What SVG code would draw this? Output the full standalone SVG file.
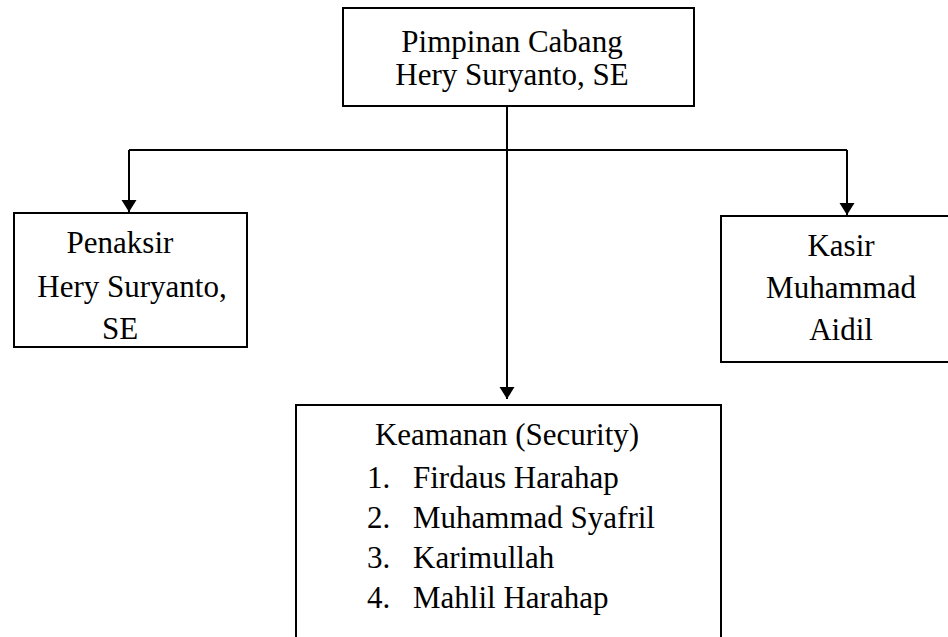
<svg xmlns="http://www.w3.org/2000/svg" width="948" height="637" viewBox="0 0 948 637">
<style>
.box{fill:#fff;stroke:#000;stroke-width:2}
.t{font-family:"Liberation Serif","Times New Roman",serif;font-size:31px;fill:#000}
.c{text-anchor:middle}
.ln{fill:none;stroke:#000;stroke-width:2}
</style>
<defs>
<marker id="ah" markerWidth="14" markerHeight="16" refX="12" refY="7.5" orient="auto" markerUnits="userSpaceOnUse">
<path d="M0,0 L12,7.5 L0,15 Z" fill="#000"/>
</marker>
</defs>
<rect width="948" height="637" fill="#fff"/>
<g id="connectors">
<path class="ln" d="M507,106 V399" marker-end="url(#ah)"/>
<path class="ln" d="M129,150 H847"/>
<path class="ln" d="M129,150 V212" marker-end="url(#ah)"/>
<path class="ln" d="M847,150 V215" marker-end="url(#ah)"/>
</g>
<g id="pimpinan">
<rect class="box" x="343" y="8" width="351" height="98"/>
<text class="t c" x="512" y="52">Pimpinan Cabang</text>
<text class="t c" x="512" y="85">Hery Suryanto, SE</text>
</g>
<g id="penaksir">
<rect class="box" x="14" y="213" width="233" height="134"/>
<text class="t c" x="120" y="253">Penaksir</text>
<text class="t c" x="132" y="297">Hery Suryanto,</text>
<text class="t c" x="120" y="339">SE</text>
</g>
<g id="kasir">
<rect class="box" x="721" y="216" width="240" height="146"/>
<text class="t c" x="841" y="256">Kasir</text>
<text class="t c" x="841" y="298">Muhammad</text>
<text class="t c" x="841" y="340">Aidil</text>
</g>
<g id="keamanan">
<rect class="box" x="296" y="405" width="425" height="250"/>
<text class="t c" x="507" y="445">Keamanan (Security)</text>
<text class="t" x="367" y="488">1.</text>
<text class="t" x="413" y="488">Firdaus Harahap</text>
<text class="t" x="367" y="528">2.</text>
<text class="t" x="413" y="528">Muhammad Syafril</text>
<text class="t" x="367" y="568">3.</text>
<text class="t" x="413" y="568">Karimullah</text>
<text class="t" x="367" y="608">4.</text>
<text class="t" x="413" y="608">Mahlil Harahap</text>
</g>
</svg>
